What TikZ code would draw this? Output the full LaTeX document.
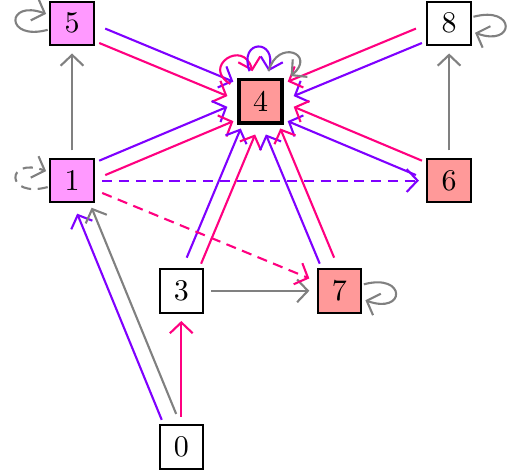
\documentclass[tikz,border=0pt]{standalone}
\usepackage{tikz}
\usetikzlibrary{arrows.meta, calc}
\usepackage{xcolor}
\definecolor{edgevio}{HTML}{7F00FF}
\definecolor{edgepink}{HTML}{FF0080}
\definecolor{nodepink}{HTML}{FF99FF}
\definecolor{nodered}{HTML}{FF9999}

\begin{document}
\begin{tikzpicture}[>={Straight Barb[length=3.6pt,width=7.6pt]},
  box/.style={draw, line width=0.7pt, minimum size=14.5pt, inner sep=0pt, outer sep=2.8pt},
  vio/.style={edgevio, line width=0.7pt, ->},
  pnk/.style={edgepink, line width=0.7pt, ->},
  gry/.style={gray, line width=0.7pt, ->},
  dsh/.style={dash pattern=on 3.4pt off 2.2pt},
  sideloop/.style={min distance=4.5mm, shorten <=-2pt, shorten >=-1.5pt},
  lside/.style 2 args={transform canvas={shift={($(#1)!2.6pt!90:(#2)-(#1)$)}}},
  rside/.style 2 args={transform canvas={shift={($(#1)!2.6pt!-90:(#2)-(#1)$)}}}]
  \useasboundingbox (0,0) rectangle (5.998,5.530);
  % Nodes
  \foreach \name/\x/\y/\col in {
    0/2.124/0.293/white,
    1/0.844/3.415/nodepink,
    3/2.124/2.123/white,
    5/0.844/5.257/nodepink,
    6/5.261/3.415/nodered,
    7/3.977/2.123/nodered,
    8/5.261/5.257/white}{
    \node[box, fill=\col] (n\name) at (\x,\y) {\name};
  }
  \node[box, fill=nodered, line width=1.2pt] (n4) at (3.052,4.343) {4};
  % Paired edges into 4 (violet on the left, pink on the right)
  \foreach \src/\dst in {n5/n4, n8/n4, n1/n4, n6/n4, n3/n4, n7/n4}{
    \draw[vio, lside={\src}{\dst}] (\src) -- (\dst);
    \draw[pnk, rside={\src}{\dst}] (\src) -- (\dst);
  }
  \draw[vio, lside={n0}{n1}] (n0) -- (n1);
  \draw[gry, rside={n0}{n1}] (n0) -- (n1);
  % Single edges
  \draw[pnk] (n0) -- (n3);
  \draw[gry] (n3) -- (n7);
  \draw[gry] (n1) -- (n5);
  \draw[gry] (n6) -- (n8);
  \draw[vio, dsh] (n1) -- (n6);
  \draw[pnk, dsh] (n1) -- (n7);
  % Loops
  \draw[gry, sideloop] (n5) to[out=195, in=160] (n5);
  \draw[gry, dsh, sideloop] (n1) to[out=195, in=160] (n1);
  \draw[gry, sideloop] (n8) to[out=15, in=-20] (n8);
  \draw[gry, sideloop] (n7) to[out=15, in=-20] (n7);
  \draw[pnk] (n4) to[out=150, in=105, min distance=4mm] (n4);
  \draw[vio] (n4) to[out=110, in=75, min distance=4mm] (n4);
  \draw[gry] (n4) to[out=75, in=40, min distance=4mm] (n4);
\end{tikzpicture}
\end{document}
